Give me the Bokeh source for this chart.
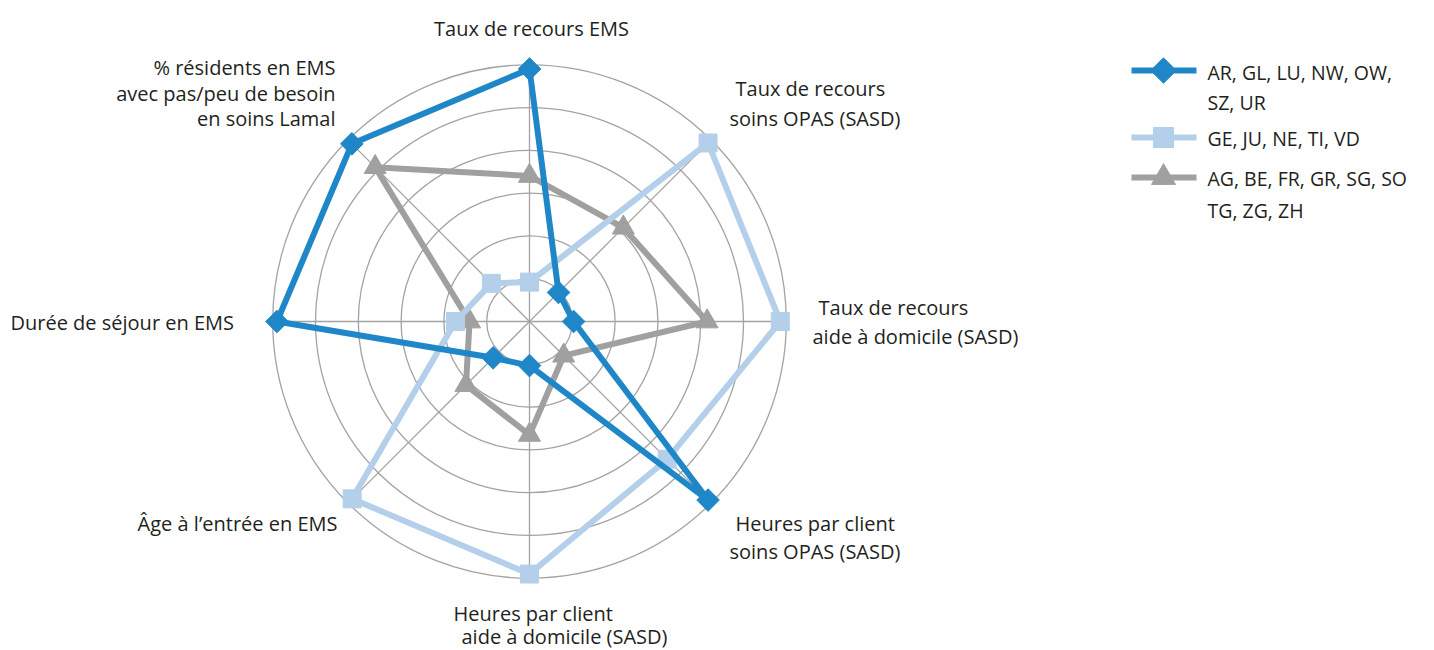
import numpy as np
from bokeh.plotting import figure
from bokeh.models import Range1d
from bokeh.core.properties import value
from bokeh.embed import file_html
from bokeh.resources import INLINE

# ---------------- data ----------------
axes_labels = [
    ["Taux de recours EMS"],
    ["Taux de recours", "soins OPAS (SASD)"],
    ["Taux de recours", "aide à domicile (SASD)"],
    ["Heures par client", "soins OPAS (SASD)"],
    ["Heures par client", "aide à domicile (SASD)"],
    ["Âge à l’entrée en EMS"],
    ["Durée de séjour en EMS"],
    ["% résidents en EMS", "avec pas/peu de besoin", "en soins Lamal"],
]
series_names = [
    ["AR, GL, LU, NW, OW,", "SZ, UR"],
    ["GE, JU, NE, TI, VD"],
    ["AG, BE, FR, GR, SG, SO", "TG, ZG, ZH"],
]
blue_vals = [5.9, 0.96, 1.03, 5.9, 1.03, 1.2, 5.9, 5.87]
light_vals = [0.92, 5.9, 5.86, 4.55, 5.9, 5.86, 1.73, 1.26]
gray_vals = [3.4, 3.1, 4.15, 1.13, 2.65, 2.1, 1.4, 5.1]
rings = [1, 2, 3, 4, 5, 6]

# ---------------- layout ----------------
W, H = 1418, 650
CX, CY = 529, 321          # centre in pixels
U = 42.8                   # pixels per ring unit

def px(X, Y):
    """screen pixel coordinates -> data coordinates"""
    return (X - CX) / U, (CY - Y) / U

p = figure(width=W, height=H, output_backend="svg", toolbar_location=None,
           x_range=Range1d(-CX / U, (W - CX) / U),
           y_range=Range1d(-(H - CY) / U, CY / U),
           min_border=0)
p.axis.visible = False
p.grid.visible = False
p.outline_line_color = None
p.background_fill_color = "white"

n = len(axes_labels)
angles = np.pi / 2 - np.arange(n) * 2 * np.pi / n

grid_col = "#a3a3a3"
for r in rings:
    p.ellipse(x=0, y=0, width=2 * r, height=2 * r, fill_color=None,
              line_color=grid_col, line_width=1.3)
R = rings[-1]
p.segment(x0=np.zeros(n), y0=np.zeros(n), x1=R * np.cos(angles),
          y1=R * np.sin(angles), line_color=grid_col, line_width=1.3)

styles = [
    dict(vals=gray_vals, color="#a0a0a0", marker="triangle", size=22, angle=0.0),
    dict(vals=light_vals, color="#b4cfea", marker="square", size=18, angle=0.0),
    dict(vals=blue_vals, color="#1f87c8", marker="square", size=16, angle=np.pi / 4),
]
for s in styles:
    v = np.array(s["vals"])
    xs = v * np.cos(angles)
    ys = v * np.sin(angles)
    p.line(np.append(xs, xs[0]), np.append(ys, ys[0]), line_color=s["color"],
           line_width=6, line_join="round")
    p.scatter(xs, ys, marker=s["marker"], size=s["size"], angle=s["angle"],
              fill_color=s["color"], line_color=s["color"])

# axis labels
label_pos = [
    [(531, 28, "center")],
    [(735, 88, "left"), (729, 118, "left")],
    [(818, 307, "left"), (812, 336, "left")],
    [(735, 523, "left"), (729, 551, "left")],
    [(453, 613, "left"), (461, 636, "left")],
    [(337, 523, "right")],
    [(10, 322, "left")],
    [(335, 67, "right"), (335, 93, "right"), (335, 118, "right")],
]
FONT = value("Open Sans")
FS = "20px"
for lines, poss in zip(axes_labels, label_pos):
    for t, (X, Y, al) in zip(lines, poss):
        x, y = px(X, Y)
        p.text(x=[x], y=[y], text=[t], text_font=FONT, text_font_size=FS,
               text_color="#231f20", text_align=al, text_baseline="middle")

# legend
leg_rows = [[72, 102], [138], [178, 210]]
leg_line_y = [70, 137, 177]
for s, names, ys_t, ly in zip(styles[::-1], series_names, leg_rows, leg_line_y):
    x0, y0 = px(1131, ly)
    x1, _ = px(1196, ly)
    xm, _ = px(1163, ly)
    p.line([x0, x1], [y0, y0], line_color=s["color"], line_width=6)
    p.scatter([xm], [y0], marker=s["marker"], size=s["size"] + 2, angle=s["angle"],
              fill_color=s["color"], line_color=s["color"])
    for t, Y in zip(names, ys_t):
        x, y = px(1207, Y)
        p.text(x=[x], y=[y], text=[t], text_font=FONT, text_font_size="19.5px",
               text_color="#231f20", text_align="left", text_baseline="middle")

open("out.html", "w").write(file_html(p, INLINE))
